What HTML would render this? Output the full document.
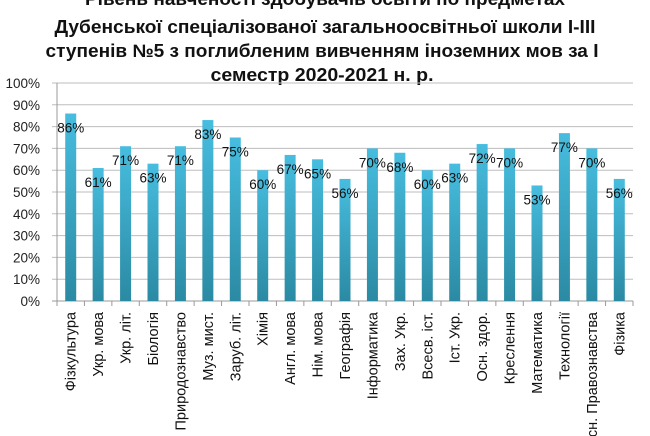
<!DOCTYPE html>
<html><head><meta charset="utf-8"><style>
html,body{margin:0;padding:0;background:#fff;}
svg{display:block;font-family:"Liberation Sans",sans-serif;}
</style></head><body>
<svg id="chart" width="650" height="436">
<defs><linearGradient id="g" x1="0" y1="0" x2="0" y2="1"><stop offset="0" stop-color="#47bddf"/><stop offset="1" stop-color="#2b8aa3"/></linearGradient></defs>
<g font-weight="bold" font-size="18" text-anchor="middle" fill="#111">
<text x="325" y="5" textLength="480" lengthAdjust="spacingAndGlyphs">Рівень навченості здобувачів освіти по предметах</text>
<text x="325" y="33" textLength="541" lengthAdjust="spacingAndGlyphs">Дубенської спеціалізованої загальноосвітньої школи І-ІІІ</text>
<text x="322" y="57" textLength="553" lengthAdjust="spacingAndGlyphs">ступенів №5 з поглибленим вивченням іноземних мов за І</text>
<text x="322" y="81" textLength="223" lengthAdjust="spacingAndGlyphs">семестр 2020-2021 н. р.</text>
</g>
<g id="grid"></g><g id="bars"></g><g id="labels"></g>
</svg>
<script>
const categories=["Фізкультура","Укр. мова","Укр. літ.","Біологія","Природознавство","Муз. мист.","Заруб. літ.","Хімія","Англ. мова","Нім. мова","Географія","Інформатика","Зах. Укр.","Всесв. іст.","Іст. Укр.","Осн. здор.","Креслення","Математика","Технології","Осн. Правознавства","Фізика"];
const values=[86,61,71,63,71,83,75,60,67,65,56,70,68,60,63,72,70,53,77,70,56];
const yTicks=[0,10,20,30,40,50,60,70,80,90,100];
const NS="http://www.w3.org/2000/svg";
const x0=57,x1=633,y0=301,y100=83;
const step=(x1-x0)/categories.length;
const yS=v=>y0-(y0-y100)*v/100;
const xC=i=>x0+step*(i+0.5);
function mk(t,a,p,txt){const e=document.createElementNS(NS,t);for(const k in a)e.setAttribute(k,a[k]);if(txt!=null)e.textContent=txt;p.appendChild(e);return e;}
const grid=document.getElementById('grid'),bars=document.getElementById('bars'),labels=document.getElementById('labels');
yTicks.forEach(v=>{
  const l=mk('line',{x1:x0-5,x2:x1,y1:yS(v),y2:yS(v),stroke:v===0?'#999':'#bdbdbd','stroke-width':1},grid);
  
  
  const t=mk('text',{x:x0-17,y:yS(v)+5,'text-anchor':'end','font-size':13.5,fill:'#222'},grid,v+'%');
  
  
});
mk('line',{x1:x0,x2:x0,y1:y100,y2:y0,stroke:'#999'},grid);
for(let i=0;i<=categories.length;i++){mk('line',{x1:x0+step*i,x2:x0+step*i,y1:y0,y2:y0+5,stroke:'#999'},grid);}
categories.forEach((c,i)=>{
  const v=values[i],bw=11;
  const r=mk('rect',{x:xC(i)-bw/2,y:yS(v),width:bw,height:y0-yS(v),fill:'url(#g)'},bars);
  
  
  const t=mk('text',{x:xC(i),y:yS(v)+19,'text-anchor':'middle','font-size':13.5,fill:'#111'},labels,v+'%');
  
  
  const cx=xC(i)+5,cy=312;
  const xl=mk('text',{x:cx,y:cy,'text-anchor':'end','font-size':14.5,fill:'#111',transform:`rotate(-90 ${cx} ${cy})`},labels,c);
  
  
});
</script>
</body></html>
